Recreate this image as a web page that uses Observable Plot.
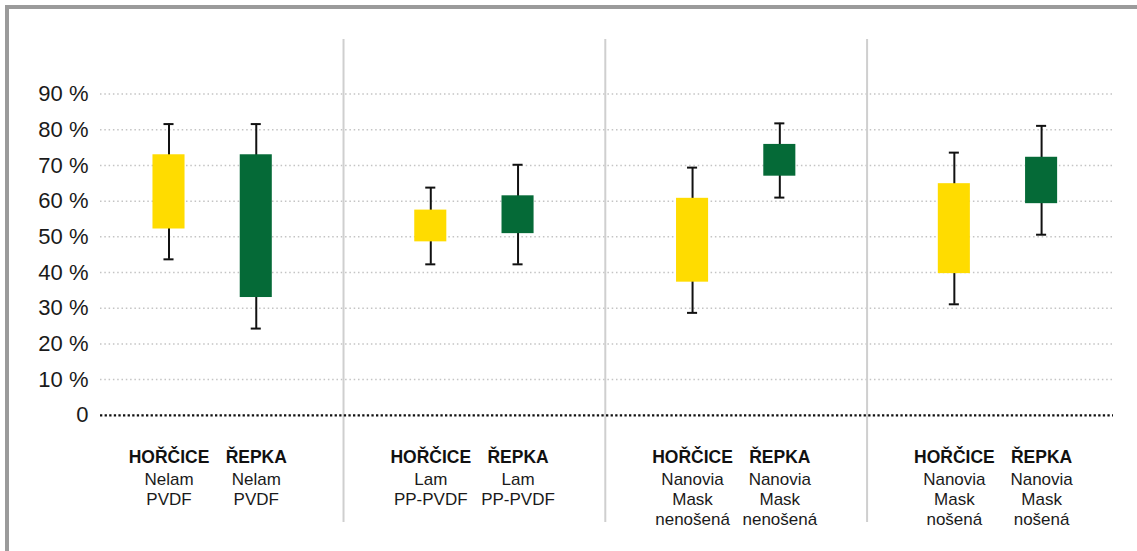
<!DOCTYPE html>
<html>
<head>
<meta charset="utf-8">
<script src="https://cdn.jsdelivr.net/npm/d3@7"></script>
<script src="https://cdn.jsdelivr.net/npm/@observablehq/plot@0.6"></script>
<style>
  html, body { margin: 0; padding: 0; background: #fff; }
  #wrap { position: relative; width: 1137px; height: 551px; overflow: hidden; }
  #frame { position: absolute; left: 5px; top: 5px; right: -10px; bottom: -10px;
           border-top: 4px solid #9b9b9b; border-left: 4px solid #9b9b9b; pointer-events: none; }
</style>
</head>
<body>
<div id="wrap"><div id="frame"></div></div>
<script>
// ---- data ----
const groups = ["Nelam\nPVDF", "Lam\nPP-PVDF", "Nanovia\nMask\nnenošená", "Nanovia\nMask\nnošená"];
const species = ["HOŘČICE", "ŘEPKA"];
const speciesColors = ["#FFDC00", "#056A37"];
// order: G1 H, G1 Ř, G2 H, G2 Ř, G3 H, G3 Ř, G4 H, G4 Ř
const whiskerLow  = [43.7, 24.3, 42.3, 42.3, 28.7, 61.0, 31.1, 50.6];
const boxLow      = [52.2, 33.0, 48.6, 50.9, 37.3, 67.0, 39.7, 59.3];
const boxHigh     = [73.0, 73.0, 57.5, 61.5, 60.8, 75.9, 64.9, 72.3];
const whiskerHigh = [81.6, 81.6, 63.8, 70.2, 69.4, 81.8, 73.6, 81.1];
const yTicks = [0, 10, 20, 30, 40, 50, 60, 70, 80, 90];

// slots: two items per group with an empty slot between groups
const slots = [];
const gaps = [];
groups.forEach((g, gi) => {
  species.forEach((s, si) => slots.push(`g${gi}-${si}`));
  if (gi < groups.length - 1) { slots.push(`gap${gi}`); gaps.push(`gap${gi}`); }
});

const rows = [];
groups.forEach((g, gi) => species.forEach((s, si) => {
  const i = gi * 2 + si;
  rows.push({slot: `g${gi}-${si}`, group: g, species: s,
    wl: whiskerLow[i], bl: boxLow[i], bh: boxHigh[i], wh: whiskerHigh[i]});
}));

const font = "'Liberation Sans', Arial, Helvetica, sans-serif";

const chart = Plot.plot({
  width: 1137,
  height: 551,
  marginTop: 39,
  marginBottom: 29,
  marginLeft: 100,
  marginRight: 24,
  style: {fontFamily: font, background: "transparent", color: "#1a1a1a", overflow: "visible"},
  x: {type: "band", domain: slots, round: false, paddingInner: 0, paddingOuter: 0.324, insetLeft: -3.4, axis: null},
  y: {domain: [-30.04, 105.3], axis: null},
  color: {domain: species, range: speciesColors},
  marks: [
    Plot.ruleY(yTicks.filter(d => d > 0), {stroke: "#c4c4c4", strokeWidth: 1.5, strokeDasharray: "1.5,2.8"}),
    Plot.ruleX(gaps, {x: d => d, stroke: "#cfcfcf", strokeWidth: 2}),
    Plot.ruleY([0], {stroke: "#111", strokeWidth: 2.3, strokeDasharray: "2.3,2.3"}),
    Plot.axisY({ticks: yTicks, tickSize: 0, tickPadding: 12, fontSize: 22, fill: "#1a1a1a",
      tickFormat: d => d === 0 ? "0" : `${d} %`}),
    Plot.ruleX(rows, {x: "slot", y1: "wl", y2: "wh", stroke: "#111", strokeWidth: 2}),
    Plot.tickY(rows, {x: "slot", y: "wl", stroke: "#111", strokeWidth: 2, insetLeft: 38.6, insetRight: 38.6}),
    Plot.tickY(rows, {x: "slot", y: "wh", stroke: "#111", strokeWidth: 2, insetLeft: 38.6, insetRight: 38.6}),
    Plot.barY(rows, {x: "slot", y1: "bl", y2: "bh", fill: "species", insetLeft: 27.6, insetRight: 27.6}),
    Plot.text(rows, {x: "slot", y: 0, text: "species", fontWeight: "bold", fontSize: 17.5,
      lineAnchor: "top", dy: 35, fill: "#111"}),
    Plot.text(rows, {x: "slot", y: 0, text: "group", fontSize: 17, lineHeight: 1.18,
      lineAnchor: "top", dy: 55.5, fill: "#1a1a1a"})
  ]
});
document.getElementById("wrap").prepend(chart);
</script>
</body>
</html>
